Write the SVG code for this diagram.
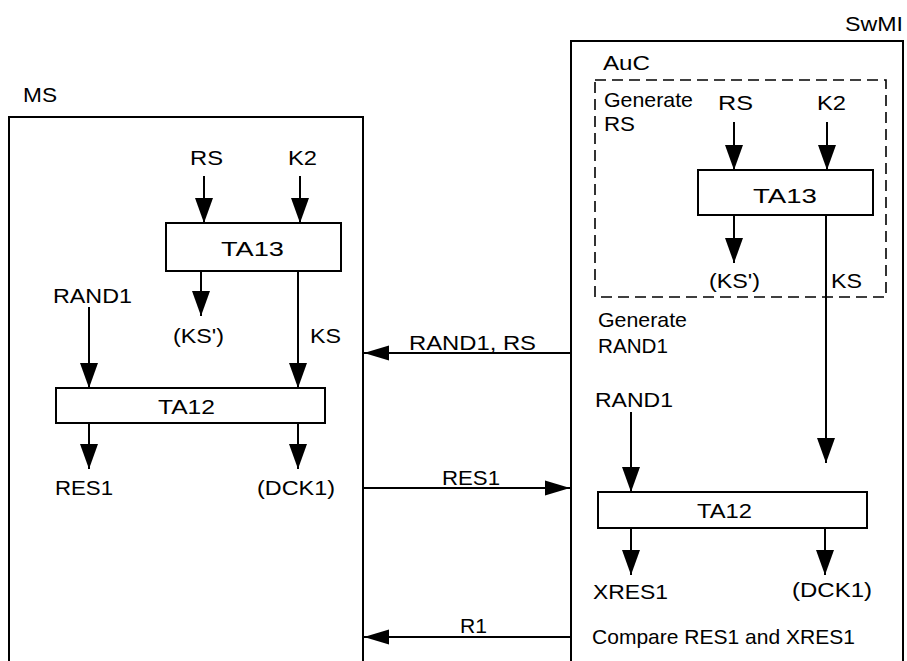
<svg xmlns="http://www.w3.org/2000/svg" width="907" height="661" viewBox="0 0 907 661">
<style>
  text { font-family: "Liberation Sans", Arial, sans-serif; font-size: 21px; fill: #000; }
  .frame { fill: none; stroke: #000; stroke-width: 2; }
  .box { fill: #fff; stroke: #000; stroke-width: 2; }
  .dash { fill: none; stroke: #000; stroke-width: 1.6; stroke-dasharray: 11 6; }
  .ln { stroke: #000; stroke-width: 2; fill: none; }
  .av { marker-end: url(#ahv); }
  .ah { marker-end: url(#ahh); }
</style>
<defs>
  <marker id="ahv" markerUnits="userSpaceOnUse" markerWidth="26" markerHeight="18" refX="25" refY="9" orient="auto">
    <path d="M0,0 L25,9 L0,18 z" fill="#000"/>
  </marker>
  <marker id="ahh" markerUnits="userSpaceOnUse" markerWidth="26" markerHeight="16" refX="25" refY="8" orient="auto">
    <path d="M0,0.5 L25,8 L0,15.5 z" fill="#000"/>
  </marker>
</defs>
<rect width="907" height="661" fill="#fff"/>

<g id="ms">
  <path class="frame" d="M9,670 L9,117 L363,117 L363,670"/>
  <text x="23" y="102" textLength="34" lengthAdjust="spacingAndGlyphs">MS</text>
</g>

<g id="swmi">
  <path class="frame" d="M571,670 L571,41 L903,41 L903,670"/>
  <text x="845" y="31" textLength="58" lengthAdjust="spacingAndGlyphs">SwMI</text>
</g>

<g id="auc">
  <rect class="dash" x="595" y="80" width="291" height="217"/>
  <text x="603" y="70" textLength="47" lengthAdjust="spacingAndGlyphs">AuC</text>
  <text x="604" y="107" textLength="89" lengthAdjust="spacingAndGlyphs">Generate</text>
  <text x="604" y="131" textLength="31" lengthAdjust="spacingAndGlyphs">RS</text>
</g>

<g id="ms-ta13">
  <rect class="box" x="166" y="223" width="175" height="48"/>
  <text x="221" y="256" textLength="63" lengthAdjust="spacingAndGlyphs">TA13</text>
</g>
<g id="ms-ta12">
  <rect class="box" x="56" y="388" width="269" height="35"/>
  <text x="158" y="414" textLength="57" lengthAdjust="spacingAndGlyphs">TA12</text>
</g>
<g id="auc-ta13">
  <rect class="box" x="698" y="170" width="175" height="45"/>
  <text x="753" y="203" textLength="64" lengthAdjust="spacingAndGlyphs">TA13</text>
</g>
<g id="swmi-ta12">
  <rect class="box" x="598" y="492" width="269" height="36"/>
  <text x="697" y="518" textLength="55" lengthAdjust="spacingAndGlyphs">TA12</text>
</g>

<g id="ms-labels">
  <text x="190" y="165" textLength="33" lengthAdjust="spacingAndGlyphs">RS</text>
  <text x="288" y="165" textLength="29" lengthAdjust="spacingAndGlyphs">K2</text>
  <text x="53" y="303" textLength="79" lengthAdjust="spacingAndGlyphs">RAND1</text>
  <text x="173" y="343" textLength="51" lengthAdjust="spacingAndGlyphs">(KS')</text>
  <text x="310" y="343" textLength="31" lengthAdjust="spacingAndGlyphs">KS</text>
  <text x="55" y="495" textLength="58" lengthAdjust="spacingAndGlyphs">RES1</text>
  <text x="257" y="495" textLength="78" lengthAdjust="spacingAndGlyphs">(DCK1)</text>
</g>

<g id="swmi-labels">
  <text x="718" y="110" textLength="35" lengthAdjust="spacingAndGlyphs">RS</text>
  <text x="817" y="110" textLength="29" lengthAdjust="spacingAndGlyphs">K2</text>
  <text x="709" y="288" textLength="51" lengthAdjust="spacingAndGlyphs">(KS')</text>
  <text x="831" y="288" textLength="31" lengthAdjust="spacingAndGlyphs">KS</text>
  <text x="598" y="327" textLength="89" lengthAdjust="spacingAndGlyphs">Generate</text>
  <text x="598" y="353" textLength="70" lengthAdjust="spacingAndGlyphs">RAND1</text>
  <text x="595" y="407" textLength="78" lengthAdjust="spacingAndGlyphs">RAND1</text>
  <text x="593" y="599" textLength="75" lengthAdjust="spacingAndGlyphs">XRES1</text>
  <text x="792" y="597" textLength="80" lengthAdjust="spacingAndGlyphs">(DCK1)</text>
  <text x="592" y="644" textLength="263" lengthAdjust="spacingAndGlyphs">Compare RES1 and XRES1</text>
</g>

<g id="connectors">
  <line class="ln av" x1="204" y1="176" x2="204" y2="223"/>
  <line class="ln av" x1="300" y1="176" x2="300" y2="223"/>
  <line class="ln av" x1="201" y1="271" x2="201" y2="316"/>
  <line class="ln av" x1="298" y1="271" x2="298" y2="388"/>
  <line class="ln av" x1="89" y1="307" x2="89" y2="388"/>
  <line class="ln av" x1="89" y1="423" x2="89" y2="469"/>
  <line class="ln av" x1="298" y1="423" x2="298" y2="469"/>
  <line class="ln av" x1="734" y1="122" x2="734" y2="170"/>
  <line class="ln av" x1="827" y1="122" x2="827" y2="170"/>
  <line class="ln av" x1="734" y1="215" x2="734" y2="263"/>
  <line class="ln av" x1="826" y1="215" x2="826" y2="463"/>
  <line class="ln av" x1="631" y1="412" x2="631" y2="492"/>
  <line class="ln av" x1="631" y1="528" x2="631" y2="575"/>
  <line class="ln av" x1="825" y1="528" x2="825" y2="575"/>
  <line class="ln ah" x1="570" y1="353" x2="364" y2="353"/>
  <text x="409" y="350" textLength="127" lengthAdjust="spacingAndGlyphs">RAND1, RS</text>
  <line class="ln ah" x1="364" y1="488" x2="570" y2="488"/>
  <text x="442" y="485" textLength="58" lengthAdjust="spacingAndGlyphs">RES1</text>
  <line class="ln ah" x1="570" y1="637" x2="364" y2="637"/>
  <text x="460" y="633" textLength="27" lengthAdjust="spacingAndGlyphs">R1</text>
</g>
</svg>
